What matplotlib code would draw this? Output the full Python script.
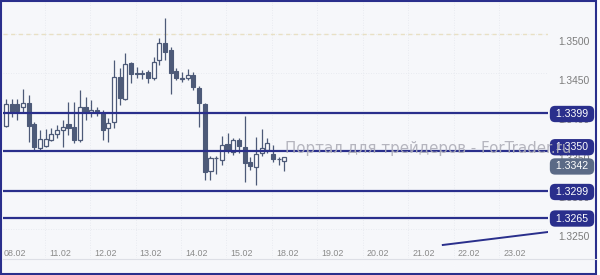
import matplotlib
matplotlib.use("Agg")
import matplotlib.pyplot as plt
import matplotlib.transforms as mtransforms
from matplotlib.patches import Rectangle
from matplotlib.lines import Line2D
import numpy as np

# ---- data (3-hour candles) ----
opens = [1.33823, 1.34105, 1.34105, 1.34067, 1.34118, 1.33849, 1.33541, 1.33567, 1.33644, 1.33721,
         1.33772, 1.33849, 1.33811, 1.33644, 1.34067, 1.34003, 1.34028, 1.33990, 1.33798, 1.33875,
         1.34452, 1.34169, 1.34631, 1.34503, 1.34503, 1.34516, 1.34439, 1.34669, 1.34887, 1.34798,
         1.34528, 1.34426, 1.34439, 1.34477, 1.34311, 1.34105, 1.33246, 1.33407, 1.33387, 1.33593,
         1.33490, 1.33644, 1.33554, 1.33362, 1.33298, 1.33477, 1.33516, 1.33464, 1.33394, 1.33375]
highs = [1.34169, 1.34169, 1.34169, 1.34298, 1.34221, 1.33875, 1.33772, 1.33785, 1.33798, 1.33836,
         1.33900, 1.34131, 1.34131, 1.34285, 1.34195, 1.34157, 1.34067, 1.34028, 1.33926, 1.34669,
         1.34567, 1.34759, 1.34650, 1.34580, 1.34541, 1.34541, 1.34708, 1.34952, 1.35208, 1.34836,
         1.34567, 1.34516, 1.34554, 1.34516, 1.34336, 1.34118, 1.33439, 1.33439, 1.33695, 1.33734,
         1.33669, 1.33669, 1.33952, 1.33426, 1.33682, 1.33785, 1.33669, 1.33580, 1.33426, 1.33426]
lows = [1.33811, 1.33939, 1.33900, 1.33990, 1.33618, 1.33516, 1.33516, 1.33554, 1.33631, 1.33669,
        1.33554, 1.33708, 1.33605, 1.33618, 1.33900, 1.33939, 1.33952, 1.33644, 1.33618, 1.33798,
        1.34093, 1.34157, 1.34375, 1.34439, 1.34426, 1.34375, 1.34413, 1.34605, 1.34669, 1.34234,
        1.34413, 1.34387, 1.34413, 1.34285, 1.33811, 1.33131, 1.33131, 1.33208, 1.33323, 1.33477,
        1.33452, 1.33477, 1.33105, 1.33259, 1.33067, 1.33439, 1.33477, 1.33362, 1.33323, 1.33246]
closes = [1.34105, 1.34003, 1.34016, 1.34118, 1.33823, 1.33554, 1.33657, 1.33657, 1.33721, 1.33772,
          1.33811, 1.33798, 1.33644, 1.34067, 1.34003, 1.34028, 1.33990, 1.33772, 1.33862, 1.34452,
          1.34182, 1.34618, 1.34490, 1.34496, 1.34490, 1.34439, 1.34644, 1.34887, 1.34772, 1.34503,
          1.34439, 1.34439, 1.34471, 1.34323, 1.34118, 1.33234, 1.33413, 1.33419, 1.33580, 1.33516,
          1.33644, 1.33567, 1.33349, 1.33311, 1.33464, 1.33541, 1.33605, 1.33400, 1.33400, 1.33420]

date_labels = ["08.02", "11.02", "12.02", "13.02", "14.02", "15.02",
               "18.02", "19.02", "20.02", "21.02", "22.02", "23.02"]
date_positions = [1.5, 9.5, 17.5, 25.5, 33.5, 41.5, 49.5, 57.5, 65.5, 73.5, 81.5, 89.5]

price_ticks = [1.3250, 1.3300, 1.3350, 1.3400, 1.3450, 1.3500]
level_values = [1.3399, 1.3350, 1.3299, 1.3265]
level_tag_shift = [-1, 4, -1, -1]          # pixel shift (up) of each tag from its line
current_price = 1.3342
current_tag_shift = -9
dashed_level = 1.3500
trend_x = [76.9, 95.6]
trend_y = [1.32298, 1.32466]
watermark = "Портал для трейдеров - ForTrader.ru"

# ---- styling ----
W, H = 600, 275
CANDLE = "#4d5a78"
NAVY = "#2a2f8c"
SLATE = "#5b6a86"
BG = "#f6f7fa"

fig = plt.figure(figsize=(6, 2.75), dpi=100, facecolor="white")

# background + frame
fig.add_artist(Rectangle((1 / W, 1 - 273.8 / H), 595 / W, 272.8 / H, transform=fig.transFigure,
                         facecolor=BG, edgecolor=NAVY, linewidth=1.5, zorder=0))
fig.add_artist(Line2D([3 / W, 596 / W], [1 - 258.5 / H] * 2, transform=fig.transFigure,
                      color="#dddfe6", lw=0.8))

ax = fig.add_axes([3 / W, 1 - 258 / H, 545 / W, 256 / H])
ax.set_facecolor("none")
for s in ax.spines.values():
    s.set_visible(False)
ax.set_xlim(-0.53, 95.42)
ax.set_ylim(1.32131, 1.354131)
ax.set_xticks([])
ax.set_yticks([])

# faint grid
for p in price_ticks:
    ax.axhline(p, color="#e4e6ec", lw=0.6, ls=(0, (1, 2)), zorder=0.5)
for dp in date_positions:
    ax.axvline(dp - 2.7, color="#e4e6ec", lw=0.6, ls=(0, (1, 2)), zorder=0.5)

ax.axhline(dashed_level, color="#e8e0c4", lw=1.0, ls=(0, (3, 2.5)), zorder=1)

# candles
idx = np.arange(len(opens))
o = np.array(opens); c = np.array(closes); h = np.array(highs); l = np.array(lows)
ax.vlines(idx, l, h, color=CANDLE, lw=0.9, zorder=2)
bull = c >= o
body_bottom = np.minimum(o, c)
body_h = np.maximum(np.abs(c - o), 0.00012)
ax.bar(idx[bull], body_h[bull], bottom=body_bottom[bull], width=0.72,
       facecolor="#fbfbfd", edgecolor=CANDLE, linewidth=0.9, zorder=3)
ax.bar(idx[~bull], body_h[~bull], bottom=body_bottom[~bull], width=0.72,
       facecolor=CANDLE, edgecolor=CANDLE, linewidth=0.8, zorder=3)

# level lines
for lv in level_values:
    ax.axhline(lv, color=NAVY, lw=1.6, zorder=4)

# trendline
ax.plot(trend_x, trend_y, color=NAVY, lw=1.4, zorder=4, clip_on=True)

# price tick labels (drawn slightly below their level, as in the source)
bl = mtransforms.blended_transform_factory(ax.transAxes, ax.transData)
for p in price_ticks:
    ax.annotate(f"{p:.4f}", xy=(1, p), xycoords=bl, xytext=(10, -8), textcoords="offset pixels",
                ha="left", va="center", fontsize=7.4, color="#7c7c7c",
                family="Liberation Sans", annotation_clip=False, zorder=5)

# date labels
bx = mtransforms.blended_transform_factory(ax.transData, ax.transAxes)
for lab, pos in zip(date_labels, date_positions):
    ax.annotate(lab, xy=(pos, 0), xycoords=bx, xytext=(0, 5), textcoords="offset pixels",
                ha="center", va="center", fontsize=6.4, color="#8a8a8a",
                family="Liberation Sans", annotation_clip=False, zorder=5)

# tags on the right
def tag(value, color, shift):
    ax.annotate(f" {value:.4f} ", xy=(1, value), xycoords=bl, xytext=(24, shift),
                textcoords="offset pixels", ha="center", va="center",
                fontsize=7.6, color="white", family="Liberation Sans",
                annotation_clip=False, zorder=7,
                bbox=dict(boxstyle="round,pad=0.3,rounding_size=0.5", fc=color, ec=color, lw=0))

for lv, sh in zip(level_values, level_tag_shift):
    tag(lv, NAVY, sh)
tag(current_price, SLATE, current_tag_shift)

# watermark
ax.annotate(watermark, xy=(0, 1.3342), xycoords=bl, xytext=(282, 8.5),
            textcoords="offset pixels", ha="left", va="center", fontsize=10.8,
            color="#aeaeb8", alpha=0.9, annotation_clip=False, zorder=8)

fig.savefig("out.png", dpi=100, facecolor="white")
